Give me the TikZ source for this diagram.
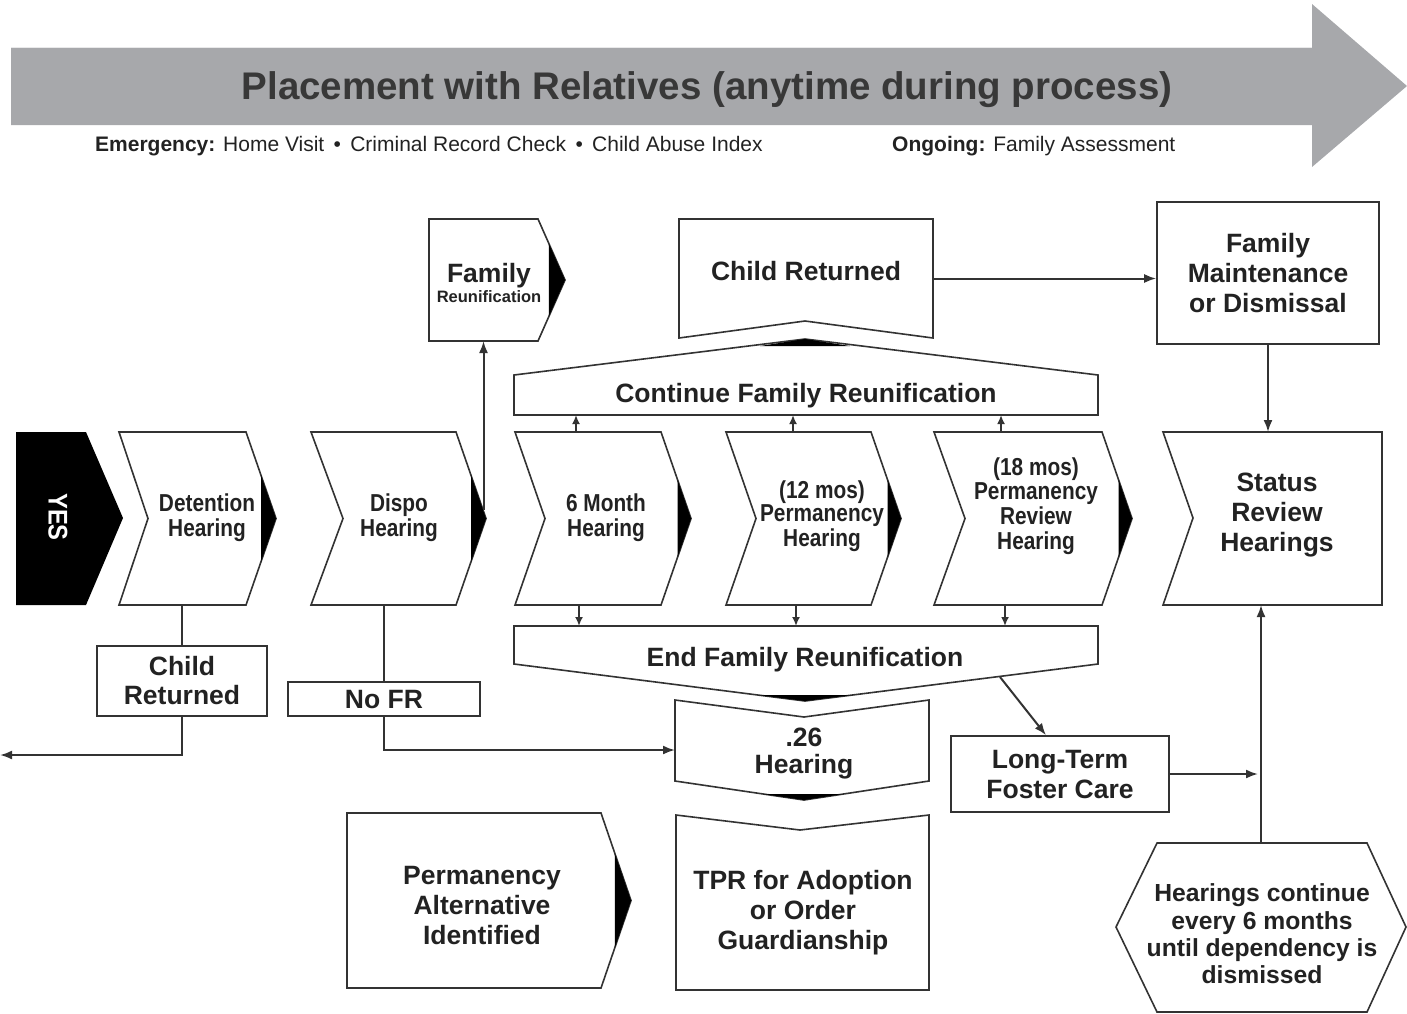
\documentclass[tikz,border=0pt]{standalone}
\usepackage{fontspec}
\setmainfont{Liberation Sans}
\usepackage{graphicx}
\usetikzlibrary{arrows.meta,calc}
\definecolor{arrowgray}{HTML}{A7A8AB}
\definecolor{ink}{HTML}{222222}
\definecolor{edge}{HTML}{333333}
\newcommand{\cnd}[1]{\scalebox{0.85}[1]{\begin{tabular}{@{}c@{}}#1\end{tabular}}}
\newcommand{\chevshape}[7]{%
  \pgfmathsetmacro{\cym}{(#3+#4)/2}%
  \pgfmathsetmacro{\cwx}{#2+#7*#6}%
  \pgfmathsetmacro{\cwt}{#3+#7*(\cym-#3)}%
  \pgfmathsetmacro{\cwb}{#4-#7*(#4-\cym)}%
  \path[shapeline] (#1,#3) -- (#2,#3) -- (#2+#6,\cym) -- (#2,#4) -- (#1,#4) -- (#1+#5,\cym) -- cycle;
  \fill[black] (\cwx,\cwt) -- (#2+#6,\cym) -- (\cwx,\cwb) -- cycle;
}
\tikzset{
  shapeline/.style={draw=edge, line width=1.6pt, fill=white, line join=miter},
  conn/.style={draw=edge, line width=2pt},
  arr/.style={conn, -{Latex[length=12pt,width=9pt]}},
  sarr/.style={conn, -{Latex[length=9pt,width=8pt]}},
  big/.style={font=\fontsize{26.5}{30}\selectfont\bfseries, text=ink, align=center, inner sep=0pt},
  cond/.style={font=\fontsize{24.5}{23.5}\selectfont\bfseries, text=ink, inner sep=0pt},
  area/.style 2 args={inner sep=0pt, outer sep=0pt, minimum width=#1pt, minimum height=#2pt},
  rbox/.style={big, draw=edge, line width=1.6pt, fill=white},
}
\begin{document}
\begin{tikzpicture}[x=1pt,y=-1pt]
\useasboundingbox (0,0) rectangle (1407,1013);

% big gray arrow
\fill[arrowgray] (11,47) -- (1312,47) -- (1312,4) -- (1407,86) -- (1312,167) -- (1312,125) -- (11,125) -- cycle;
\draw[white!75!arrowgray, line width=1.2pt] (11,47.5) -- (1312,47.5);
\node[anchor=base, font=\fontsize{38.5}{40}\selectfont\bfseries, text=ink!90] (title) at (707,99) {Placement with Relatives (anytime during process)};
\node[anchor=base west, font=\fontsize{21}{24}\selectfont, text=ink, inner sep=0pt] (sub1) at (95,151) {\textbf{Emergency:} Home Visit \,\textbullet\, Criminal Record Check \,\textbullet\, Child Abuse Index};
\node[anchor=base west, font=\fontsize{21}{24}\selectfont, text=ink, inner sep=0pt] (sub2) at (892,151) {\textbf{Ongoing:} Family Assessment};

% YES block
\fill[black] (16,432) -- (86,432) -- (123,518) -- (86,605) -- (16,605) -- cycle;
\node[rotate=-90, text=white, font=\fontsize{27}{27}\selectfont\bfseries, inner sep=0pt] (yes) at (58,517) {\scalebox{0.88}[1]{YES}};

% chevrons
\chevshape{119}{246}{432}{605}{29}{30}{0.5}
\chevshape{311}{456}{432}{605}{32}{30}{0.5}
\chevshape{515}{661}{432}{605}{30}{30}{0.55}
\chevshape{726}{871}{432}{605}{30}{30}{0.55}
\chevshape{934}{1102}{432}{605}{31}{30}{0.55}
\chevshape{429}{538}{219}{341}{0}{27}{0.4}
\chevshape{347}{601}{813}{988}{0}{30}{0.46}
\path[shapeline] (1163,432) -- (1382,432) -- (1382,605) -- (1163,605) -- (1193,518) -- cycle;

% other shapes
\path[shapeline] (679,219) -- (933,219) -- (933,338) -- (805,321) -- (679,338) -- cycle;
\path[shapeline] (514,375) -- (805,339) -- (1098,375) -- (1098,415) -- (514,415) -- cycle;
\fill[black] (760,346) -- (805,339) -- (850,346) -- cycle;
\path[shapeline] (514,626) -- (1098,626) -- (1098,664) -- (805,701) -- (514,664) -- cycle;
\fill[black] (758,695) -- (805,701) -- (852,695) -- cycle;
\path[shapeline] (675,700) -- (804,717) -- (929,700) -- (929,781) -- (804,800) -- (675,781) -- cycle;
\fill[black] (763,794) -- (804,800) -- (843,794) -- cycle;
\path[shapeline] (676,815) -- (800,830) -- (929,815) -- (929,990) -- (676,990) -- cycle;
\path[shapeline] (1157,843) -- (1367,843) -- (1406,927) -- (1367,1012) -- (1157,1012) -- (1116,927) -- cycle;

% area nodes (for connections)
\node[area={127}{173}] (det) at (182,518.5) {};
\node[area={145}{173}] (dispo) at (384,518.5) {};
\node[area={146}{173}] (m6) at (588,518.5) {};
\node[area={145}{173}] (m12) at (798.5,518.5) {};
\node[area={168}{173}] (m18) at (1018,518.5) {};
\node[area={219}{173}] (sr) at (1272.5,518.5) {};
\node[area={109}{122}] (fr) at (483.5,280) {};
\node[area={254}{119}] (cr) at (806,278.5) {};
\node[area={584}{76}] (cont) at (806,377) {};
\node[area={584}{75}] (endfr) at (806,663.5) {};
\node[area={254}{100}] (h26) at (802,750) {};
\node[area={253}{175}] (tpr) at (802.5,902.5) {};
\node[area={254}{175}] (pai) at (474,900.5) {};
\node[area={290}{169}] (hex) at (1261,927.5) {};

% rectangles
\node[rbox, minimum width=222pt, minimum height=142pt] (fm) at (1268,273) {Family\\Maintenance\\or Dismissal};
\node[rbox, minimum width=170pt, minimum height=70pt, font=\fontsize{26.5}{29}\selectfont\bfseries] (crs) at (182,681) {Child\\Returned};
\node[rbox, minimum width=192pt, minimum height=34pt] (nofr) at (384,699) {No FR};
\node[rbox, minimum width=218pt, minimum height=76pt] (lt) at (1060,774) {Long-Term\\Foster Care};

% texts
\node[cond] (detT) at (207,519) {\cnd{Detention\\Hearing}};
\node[cond] (dispoT) at (399,519) {\cnd{Dispo\\Hearing}};
\node[cond] (m6T) at (606,519) {\cnd{6 Month\\Hearing}};
\node[cond] (m12T) at (822,517) {\cnd{(12 mos)\\Permanency\\Hearing}};
\node[cond] (m18T) at (1036,507) {\cnd{(18 mos)\\Permanency\\Review\\Hearing}};
\node[big] (srT) at (1277,515) {Status\\Review\\Hearings};
\node[big, anchor=base] (crT) at (806,280) {Child Returned};
\node[big, anchor=base] (contT) at (806,402) {Continue Family Reunification};
\node[big, anchor=base] (endT) at (805,666) {End Family Reunification};
\node[big, font=\fontsize{26.5}{27}\selectfont\bfseries] (h26T) at (804,754) {.26\\Hearing};
\node[big] (tprT) at (803,913) {TPR for Adoption\\or Order\\Guardianship};
\node[big] (paiT) at (482,905) {Permanency\\Alternative\\Identified};
\node[big, font=\fontsize{24.7}{27.3}\selectfont\bfseries] (hexT) at (1262,934) {Hearings continue\\every 6 months\\until dependency is\\dismissed};
\node[big, font=\fontsize{26.5}{20}\selectfont\bfseries] (frT) at (489,283) {Family\\{\fontsize{16.5}{16}\selectfont Reunification}};

% connectors
\coordinate (exitL) at (0,755);
\coordinate (dispoEdge) at (483.5,510);
\coordinate (endLT) at (1000,677);
\draw[arr] (cr.east) -- (cr.east -| fm.west);
\draw[arr] (fm.south) -- (fm.south |- sr.north);
\draw[arr] (hex.north) -- (hex.north |- sr.south);
\draw[arr] (lt.east) -- ([xshift=-3pt]lt.east -| hex.north);
\draw[arr] (endLT) -- ([xshift=-14pt]lt.north);
\draw[arr] (dispoEdge) -- (fr.south);
\draw[conn] (det.south) -- (crs.north);
\draw[arr] (crs.south) |- (exitL);
\draw[conn] (dispo.south) -- (nofr.north);
\draw[arr] (nofr.south) |- (h26.west);
\draw[sarr] ([xshift=-12pt]m6.north) -- ([xshift=-12pt]m6.north |- cont.south);
\draw[sarr] ([xshift=-5.5pt]m12.north) -- ([xshift=-5.5pt]m12.north |- cont.south);
\draw[sarr] ([xshift=-17pt]m18.north) -- ([xshift=-17pt]m18.north |- cont.south);
\draw[sarr] ([xshift=-9pt]m6.south) -- ([xshift=-9pt]m6.south |- endfr.north);
\draw[sarr] ([xshift=-2.5pt]m12.south) -- ([xshift=-2.5pt]m12.south |- endfr.north);
\draw[sarr] ([xshift=-13pt]m18.south) -- ([xshift=-13pt]m18.south |- endfr.north);
\end{tikzpicture}
\end{document}
